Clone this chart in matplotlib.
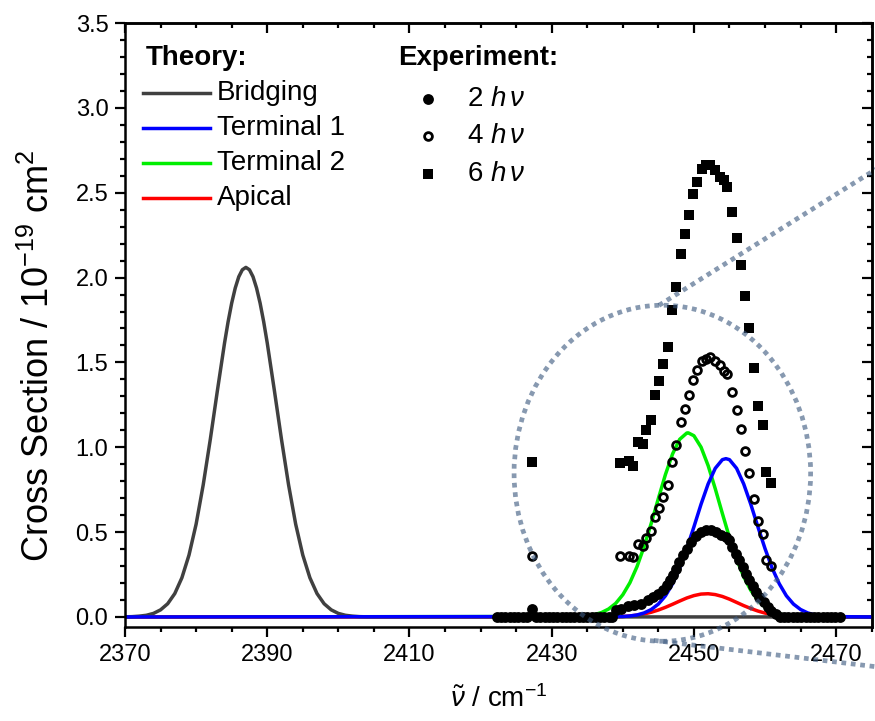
import matplotlib
matplotlib.use('Agg')
import matplotlib.pyplot as plt
from matplotlib.lines import Line2D
from matplotlib.patches import Ellipse
from matplotlib.ticker import MultipleLocator

plt.rcParams['font.family'] = ['Liberation Sans', 'DejaVu Sans']
plt.rcParams['mathtext.fontset'] = 'custom'
plt.rcParams['mathtext.rm'] = 'Liberation Sans'
plt.rcParams['mathtext.it'] = 'Liberation Sans:italic'
plt.rcParams['mathtext.bf'] = 'Liberation Sans:bold'

# ---- theory curves ----
bridging_x = [2370, 2371, 2372, 2373, 2374, 2375, 2376, 2377, 2378, 2379, 2380,
              2381, 2382, 2383, 2384, 2384.5, 2385, 2385.5, 2386, 2386.5, 2387,
              2387.5, 2388, 2388.5, 2389, 2389.5, 2390, 2391,
              2392, 2393, 2394, 2395, 2396, 2397, 2398, 2399, 2400, 2401, 2402,
              2403, 2404, 2475]
bridging_y = [0.001, 0.002, 0.005, 0.010, 0.021, 0.042, 0.078, 0.138, 0.231, 0.365, 0.547,
              0.779, 1.048, 1.336, 1.615, 1.740, 1.849, 1.938, 2.005, 2.046, 2.060,
              2.046, 2.005, 1.938, 1.849, 1.740, 1.615, 1.336,
              1.048, 0.779, 0.547, 0.365, 0.231, 0.138, 0.078, 0.042, 0.021, 0.010, 0.005,
              0.002, 0.001, 0.0]

term1_x = [2370, 2440, 2441, 2442, 2443, 2444, 2445, 2446, 2447, 2448, 2449, 2450,
           2451, 2452, 2453, 2454, 2454.5, 2455, 2456, 2457, 2458, 2459, 2460, 2461,
           2462, 2463, 2464, 2465, 2466, 2467, 2468, 2469, 2475]
term1_y = [0.0, 0.003, 0.006, 0.012, 0.024, 0.044, 0.076, 0.125, 0.196, 0.288, 0.403, 0.531,
           0.664, 0.784, 0.876, 0.927, 0.933, 0.927, 0.876, 0.784, 0.664, 0.531, 0.403, 0.288,
           0.196, 0.125, 0.076, 0.044, 0.024, 0.012, 0.006, 0.003, 0.0]

term2_x = [2370, 2434, 2435, 2436, 2437, 2438, 2439, 2440, 2441, 2442, 2443, 2444,
           2445, 2446, 2447, 2448, 2449, 2449.2, 2450, 2451, 2452, 2453, 2454, 2455,
           2456, 2457, 2458, 2459, 2460, 2461, 2462, 2463, 2464, 2475]
term2_y = [0.0, 0.003, 0.007, 0.014, 0.026, 0.047, 0.080, 0.131, 0.202, 0.297, 0.415, 0.552,
           0.698, 0.840, 0.961, 1.047, 1.084, 1.085, 1.068, 1.001, 0.892, 0.756, 0.610, 0.468,
           0.341, 0.237, 0.157, 0.098, 0.059, 0.033, 0.018, 0.009, 0.004, 0.0]

apical_x = [2370, 2439, 2440, 2441, 2442, 2443, 2444, 2445, 2446, 2447, 2448, 2449,
            2450, 2451, 2452, 2453, 2454, 2455, 2456, 2457, 2458, 2459, 2460, 2461,
            2462, 2463, 2464, 2465, 2475]
apical_y = [0.0, 0.001, 0.003, 0.006, 0.011, 0.018, 0.028, 0.041, 0.057, 0.075, 0.094, 0.112,
            0.126, 0.135, 0.137, 0.132, 0.121, 0.105, 0.086, 0.067, 0.050, 0.035, 0.023, 0.015,
            0.009, 0.005, 0.003, 0.001, 0.0]

theory_labels = ['Bridging', 'Terminal 1', 'Terminal 2', 'Apical']
theory_colors = ['#404040', '#0000ff', '#00ee00', '#ff0000']

# ---- experiment ----
x_2hv = [2422.3, 2422.9, 2423.5, 2424.1, 2424.7, 2425.3, 2425.9, 2426.5, 2427.2, 2427.8,
         2428.4, 2429.0, 2429.6, 2430.2, 2430.8, 2431.4, 2432.0, 2432.6, 2433.2, 2433.8,
         2434.4, 2435.0, 2435.6, 2436.2, 2436.8, 2437.4, 2438.0, 2438.5,
         2439.0, 2439.7, 2440.7, 2441.6, 2442.5, 2443.5, 2444.2, 2444.9, 2445.6, 2446.2,
         2446.7, 2447.0, 2447.5, 2447.9, 2448.4, 2449.0, 2449.6, 2450.3, 2451.0, 2451.7,
         2452.4, 2453.1, 2453.8, 2454.5, 2455.0, 2455.4, 2455.9, 2456.4, 2456.9, 2457.3,
         2457.8, 2458.3, 2458.7, 2459.2, 2459.8, 2460.4, 2460.9, 2461.5,
         2462.1, 2462.7, 2463.3, 2463.9, 2464.5, 2465.1, 2465.7, 2466.3, 2466.9, 2467.5,
         2468.1, 2468.7, 2469.3, 2469.9, 2470.5]
y_2hv = [0.0, 0.0, 0.0, 0.0, 0.0, 0.0, 0.0, 0.0, 0.045, 0.0,
         0.0, 0.0, 0.0, 0.0, 0.0, 0.0, 0.0, 0.0, 0.0, 0.0,
         0.0, 0.0, 0.0, 0.0, 0.0, 0.0, 0.0, 0.0,
         0.040, 0.050, 0.063, 0.069, 0.079, 0.098, 0.118, 0.138, 0.161, 0.187,
         0.216, 0.246, 0.285, 0.324, 0.364, 0.403, 0.442, 0.476, 0.501, 0.515,
         0.511, 0.501, 0.486, 0.471, 0.452, 0.412, 0.374, 0.334, 0.295, 0.256,
         0.216, 0.181, 0.147, 0.118, 0.088, 0.059, 0.035, 0.016,
         0.0, 0.0, 0.0, 0.0, 0.0, 0.0, 0.0, 0.0, 0.0, 0.0,
         0.0, 0.0, 0.0, 0.0, 0.0]

scan_x = [2427.2, 2439.6, 2440.9, 2441.5, 2442.1, 2442.8, 2443.3, 2443.9, 2444.5, 2445.1,
          2445.7, 2446.3, 2446.9, 2447.5, 2448.2, 2448.8, 2449.3, 2449.9, 2450.5, 2451.1,
          2451.7, 2452.3, 2452.9, 2453.6, 2454.2, 2454.7, 2455.4, 2456.0, 2456.6, 2457.2,
          2457.8, 2458.5, 2459.0, 2459.7, 2460.2, 2460.9]
y_4hv = [0.359, 0.359, 0.359, 0.354, 0.428, 0.417, 0.468, 0.507, 0.589, 0.645,
         0.707, 0.776, 0.913, 1.012, 1.146, 1.228, 1.306, 1.399, 1.454, 1.507,
         1.523, 1.532, 1.507, 1.483, 1.448, 1.430, 1.326, 1.222, 1.108, 0.978,
         0.849, 0.698, 0.564, 0.491, 0.338, 0.303]
y_6hv = [0.913, 0.907, 0.919, 0.890, 1.031, 1.018, 1.100, 1.159, 1.306, 1.391,
         1.489, 1.593, 1.807, 1.945, 2.141, 2.255, 2.367, 2.495, 2.563, 2.642,
         2.662, 2.662, 2.632, 2.593, 2.573, 2.532, 2.387, 2.236, 2.072, 1.892,
         1.702, 1.467, 1.242, 1.130, 0.854, 0.792]

exp_labels = [r'2 $h\,\nu$', r'4 $h\,\nu$', r'6 $h\,\nu$']

W, H = 875, 721
fig = plt.figure(figsize=(W / 100, H / 100), dpi=100)
ax = fig.add_axes([125 / W, 1 - 627 / H, 746.7 / W, 604 / H])

LW = 2.5
# theory lines, blue drawn last like the original
ax.plot(term2_x, term2_y, color=theory_colors[2], lw=LW, zorder=2)
ax.plot(apical_x, apical_y, color=theory_colors[3], lw=LW, zorder=2.1)
ax.plot(bridging_x, bridging_y, color=theory_colors[0], lw=LW, zorder=2.2)
ax.plot(term1_x, term1_y, color=theory_colors[1], lw=LW, zorder=2.3)

# experiment markers
sq_style = dict(marker='s', ms=7.2, mfc='k', mec='k', mew=0)
oc_style = dict(marker='o', ms=5.6, mfc='none', mec='k', mew=2.0)
fc_style = dict(marker='o', ms=7.8, mfc='k', mec='k', mew=0)
ax.plot(scan_x, y_6hv, ls='none', zorder=3, **sq_style)
ax.plot(scan_x, y_4hv, ls='none', zorder=3, **oc_style)
ax.plot(x_2hv, y_2hv, ls='none', zorder=3.2, **fc_style)

# dotted zoom callout
callout = dict(color='#3d5a80', alpha=0.62, lw=3.4, ls=(0, (1, 1)), clip_on=False, zorder=5)
ell = Ellipse((2445.56, 0.847), 41.7, 1.98, fill=False, **callout)
ax.add_patch(ell)
ax.plot([2445.07, 2477.0], [1.836, 2.675], **callout)
ax.plot([2444.37, 2477.0], [-0.138, -0.300], **callout)

ax.set_xlim(2370, 2475)
ax.set_ylim(-0.059, 3.5)
ax.xaxis.set_major_locator(MultipleLocator(20, offset=10))
ax.xaxis.set_minor_locator(MultipleLocator(5))
ax.yaxis.set_major_locator(MultipleLocator(0.5))
ax.yaxis.set_minor_locator(MultipleLocator(0.1))
ax.tick_params(which='both', direction='out', width=1.6, labelsize=17, pad=5)
ax.tick_params(which='major', length=7)
ax.tick_params(which='minor', length=3.5)
for sp in ax.spines.values():
    sp.set_linewidth(1.8)

# mirrored inward ticks on top / right
top = ax.secondary_xaxis('top')
top.xaxis.set_major_locator(MultipleLocator(20, offset=10))
top.xaxis.set_minor_locator(MultipleLocator(5))
top.tick_params(which='both', direction='in', width=1.6, labeltop=False)
top.tick_params(which='major', length=7)
top.tick_params(which='minor', length=3.5)
right = ax.secondary_yaxis('right')
right.yaxis.set_major_locator(MultipleLocator(0.5))
right.yaxis.set_minor_locator(MultipleLocator(0.1))
right.tick_params(which='both', direction='in', width=1.6, labelright=False)
right.tick_params(which='major', length=7)
right.tick_params(which='minor', length=3.5)
for s in (top, right):
    for sp in s.spines.values():
        sp.set_linewidth(1.8)

ax.set_xlabel(r'$\tilde{\nu}$ / cm$^{-1}$', fontsize=20, labelpad=14)
ax.set_ylabel('Cross Section / 10$^{-19}$ cm$^{2}$', fontsize=26)
ax.yaxis.set_label_coords(-0.0905, 0.449)


def fxy(px, py):
    return px / W, 1 - py / H


# legend: theory
fig.text(*fxy(146, 58), 'Theory:', fontsize=20, fontweight='bold', va='center')
for lab, col, py in zip(theory_labels, theory_colors, [93, 128, 163, 198]):
    x0, y0 = fxy(143, py)
    x1, _ = fxy(210, py)
    fig.add_artist(Line2D([x0, x1], [y0, y0], color=col, lw=LW, transform=fig.transFigure))
    fig.text(*fxy(217, py), lab, fontsize=20, va='center')

# legend: experiment
fig.text(*fxy(398, 58), 'Experiment:', fontsize=20, fontweight='bold', va='center')
for lab, st, py in zip(exp_labels, [fc_style, oc_style, sq_style], [99, 136, 174]):
    x0, y0 = fxy(428, py)
    fig.add_artist(Line2D([x0], [y0], ls='none', transform=fig.transFigure, **st))
    fig.text(*fxy(467, py), lab, fontsize=20, va='center')

fig.savefig('out.png', dpi=100)
